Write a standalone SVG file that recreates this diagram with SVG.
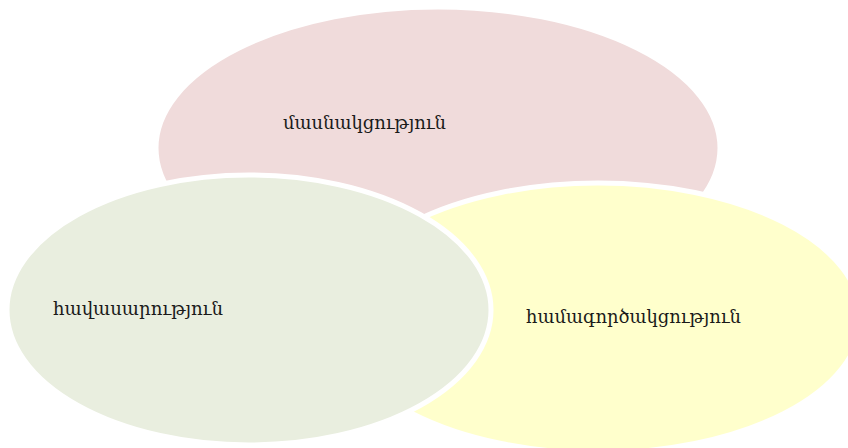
<svg xmlns="http://www.w3.org/2000/svg" width="848" height="448" viewBox="0 0 848 448">
<style>
.shape{stroke:#ffffff;stroke-width:5}
.lbl{font-family:"DejaVu Serif","Liberation Serif",serif;font-size:18px;fill:#1a1a1a}
</style>
<rect width="848" height="448" fill="#ffffff"/>
<g id="node-masnakcutyun">
<ellipse class="shape" cx="438" cy="148" rx="282" ry="141" fill="#f0dbdb"/>
<text class="lbl" x="283" y="129" textLength="163" lengthAdjust="spacingAndGlyphs">մասնակցություն</text>
</g>
<g id="node-hamagortsakcutyun">
<ellipse class="shape" cx="598" cy="318" rx="263" ry="135" fill="#ffffcc"/>
<text class="lbl" x="526" y="323" textLength="215" lengthAdjust="spacingAndGlyphs">համագործակցություն</text>
</g>
<g id="node-havasarutyun">
<ellipse class="shape" cx="249" cy="310" rx="242" ry="135" fill="#e9eedf"/>
<text class="lbl" x="53" y="315" textLength="170" lengthAdjust="spacingAndGlyphs">հավասարություն</text>
</g>
<g id="connectors"></g>
</svg>
